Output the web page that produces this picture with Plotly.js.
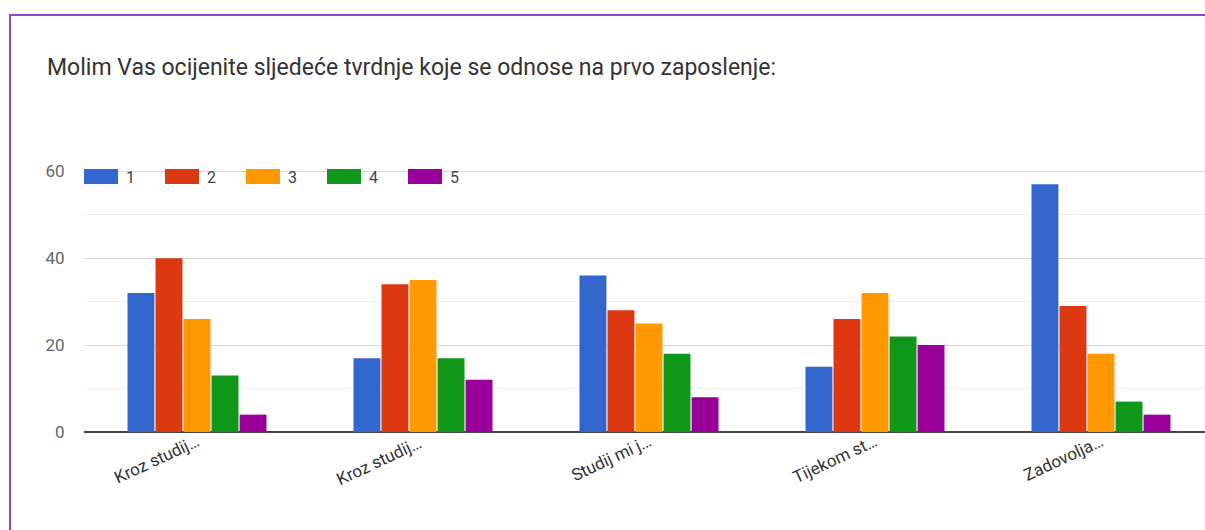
<!DOCTYPE html>
<html>
<head>
<meta charset="utf-8">
<script src="https://cdn.plot.ly/plotly-3.0.1.min.js"></script>
<style>
  html, body { margin: 0; padding: 0; background: #ffffff; overflow: hidden; width: 1205px; height: 530px; }
  #chart { position: absolute; left: 0; top: 0; width: 1230px; height: 530px; }
  #frameTop { position: absolute; left: 9px; top: 14px; width: 1300px; height: 2px; background: #8a4cc4; }
  #frameLeft { position: absolute; left: 9px; top: 14px; width: 2px; height: 600px; background: #8a4cc4; }
</style>
</head>
<body>
<div id="chart"></div>
<div id="frameTop"></div>
<div id="frameLeft"></div>
<script>
// ---- data ----
var categories = ["Kroz studij…", "Kroz studij… ", "Studij mi j…", "Tijekom st…", "Zadovolja…"];
var seriesNames = ["1", "2", "3", "4", "5"];
var seriesColors = ["#3366cc", "#dc3912", "#ff9900", "#109618", "#990099"];
var values1 = [32, 17, 36, 15, 57];
var values2 = [40, 34, 28, 26, 29];
var values3 = [26, 35, 25, 32, 18];
var values4 = [13, 17, 18, 22, 7];
var values5 = [4, 12, 8, 20, 4];
var allValues = [values1, values2, values3, values4, values5];
var yTicks = [0, 20, 40, 60];

var titleText = "Molim Vas ocijenite sljedeće tvrdnje koje se odnose na prvo zaposlenje:";

// ---- layout geometry (pixels) ----
var W = 1230, H = 530;
var mL = 84, mR = 16, mT = 170, mB = 98;
var plotW = W - mL - mR, plotH = H - mT - mB;
function px2x(px) { return (px - mL) / plotW; }
function py2y(py) { return (H - mB - py) / plotH; }

var traces = seriesNames.map(function (name, i) {
  return {
    type: "bar",
    name: name,
    x: categories,
    y: allValues[i],
    marker: { color: seriesColors[i] },
    hoverinfo: "x+y+name",
    showlegend: false
  };
});

// custom legend (swatches + labels) like Google Charts
var shapes = [];
var annotations = [];
seriesNames.forEach(function (name, i) {
  var left = 84 + 81 * i;
  shapes.push({
    type: "rect", xref: "paper", yref: "paper", layer: "above",
    x0: px2x(left), x1: px2x(left + 34),
    y0: py2y(184), y1: py2y(169),
    fillcolor: seriesColors[i], line: { width: 0 }
  });
  annotations.push({
    xref: "paper", yref: "paper", showarrow: false,
    x: px2x(left + 40), y: py2y(177),
    xanchor: "left", yanchor: "middle",
    text: name,
    font: { family: "Roboto, Arial, sans-serif", size: 16, color: "#444444" }
  });
});

var layout = {
  width: W, height: H,
  margin: { l: mL, r: mR, t: mT, b: mB, pad: 0 },
  paper_bgcolor: "#ffffff",
  plot_bgcolor: "#ffffff",
  font: { family: "Roboto, Arial, sans-serif", color: "#444444" },
  title: {
    text: titleText,
    xref: "container", yref: "container",
    x: 47 / W, xanchor: "left",
    y: 1 - 67 / H, yanchor: "middle",
    font: { family: "Roboto, Arial, sans-serif", size: 23, color: "#333333" }
  },
  barmode: "group",
  bargap: 0.38,
  bargroupgap: 0.04,
  showlegend: false,
  xaxis: {
    type: "category",
    range: [-0.5, 4.5],
    tickangle: -25,
    tickfont: { family: "Roboto, Arial, sans-serif", size: 17, color: "#333333" },
    showgrid: false,
    showline: false,
    zeroline: false,
    ticks: "",
    ticklabelstandoff: -4,
    fixedrange: true
  },
  yaxis: {
    range: [0, 60.3],
    tickvals: yTicks,
    ticktext: yTicks.map(String),
    tickfont: { family: "Roboto, Arial, sans-serif", size: 17, color: "#666666" },
    showgrid: true,
    gridcolor: "#d9d9d9",
    gridwidth: 1,
    minor: { dtick: 10, tick0: 0, showgrid: true, gridcolor: "#efefef", gridwidth: 1 },
    zeroline: true,
    zerolinecolor: "#444444",
    zerolinewidth: 1.5,
    showline: false,
    ticks: "outside", ticklen: 15, tickcolor: "rgba(0,0,0,0)",
    fixedrange: true
  },
  shapes: shapes,
  annotations: annotations
};

Plotly.newPlot("chart", traces, layout, { displayModeBar: false, staticPlot: true });
</script>
</body>
</html>
